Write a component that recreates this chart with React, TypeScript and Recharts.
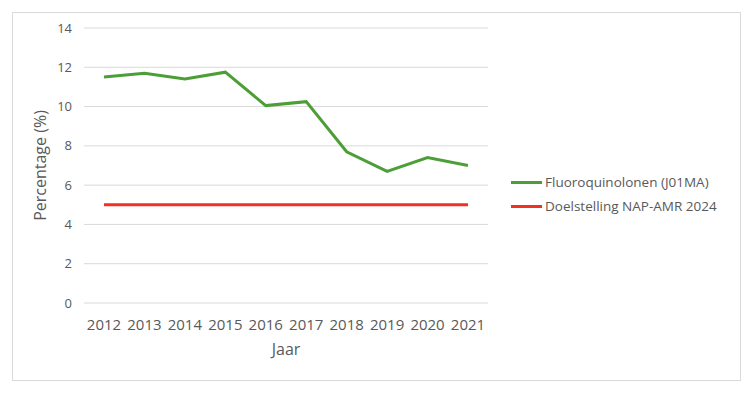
import React from 'react';
import { LineChart, Line, XAxis, YAxis, CartesianGrid, Label } from 'recharts';

const years = ['2012', '2013', '2014', '2015', '2016', '2017', '2018', '2019', '2020', '2021'];
const fluoroquinolonen = [11.5, 11.7, 11.4, 11.75, 10.05, 10.25, 7.7, 6.7, 7.4, 7.0];
const doelstelling = [5, 5, 5, 5, 5, 5, 5, 5, 5, 5];
const yTicks = [0, 2, 4, 6, 8, 10, 12, 14];

const seriesNames = ['Fluoroquinolonen (J01MA)', 'Doelstelling NAP-AMR 2024'];
const seriesColors = ['#4C9E37', '#F23020'];

const data = years.map((y, i) => ({ year: y, fq: fluoroquinolonen[i], doel: doelstelling[i] }));

const FONT = '"Open Sans", "Noto Sans", sans-serif';

export default function App() {
  return (
    <div style={{ position: 'absolute', left: 0, top: 0, width: 750, height: 395, background: '#fff' }}>
      <div style={{ position: 'absolute', left: 12, top: 12, width: 727, height: 367, border: '1px solid #d9d9d9' }} />
      <LineChart width={750} height={395} data={data} margin={{ top: 28, right: 262, bottom: 30, left: 0 }}>
        <CartesianGrid vertical={false} stroke="#d9d9d9" strokeWidth={1} />
        <XAxis
          dataKey="year"
          axisLine={false}
          tickLine={false}
          padding={{ left: 20, right: 20 }}
          tick={{ fill: '#595959', fontSize: 15, fontFamily: FONT }}
          tickMargin={10}
          height={62}
        >
          <Label value="Jaar" position="insideBottom" offset={10} style={{ fill: '#595959', fontSize: 16, fontFamily: FONT }} />
        </XAxis>
        <YAxis
          domain={[0, 14]}
          ticks={yTicks}
          axisLine={false}
          tickLine={false}
          width={84}
          tickMargin={6}
          tick={{ fill: '#595959', fontSize: 13, fontFamily: FONT }}
        >
          <Label value="Percentage (%)" angle={-90} position="insideLeft" offset={40} style={{ textAnchor: 'middle', fill: '#595959', fontSize: 16, fontFamily: FONT }} />
        </YAxis>
        <Line type="linear" dataKey="fq" name={seriesNames[0]} stroke={seriesColors[0]} strokeWidth={3} dot={false} isAnimationActive={false} />
        <Line type="linear" dataKey="doel" name={seriesNames[1]} stroke={seriesColors[1]} strokeWidth={3} dot={false} isAnimationActive={false} />
      </LineChart>
      <div style={{ position: 'absolute', left: 511, top: 170, fontFamily: FONT, fontSize: 13.5, color: '#595959' }}>
        {seriesNames.map((n, i) => (
          <div key={n} style={{ display: 'flex', alignItems: 'center', height: 24 }}>
            <div style={{ width: 31, height: 3, background: seriesColors[i], marginRight: 3 }} />
            <span>{n}</span>
          </div>
        ))}
      </div>
    </div>
  );
}
